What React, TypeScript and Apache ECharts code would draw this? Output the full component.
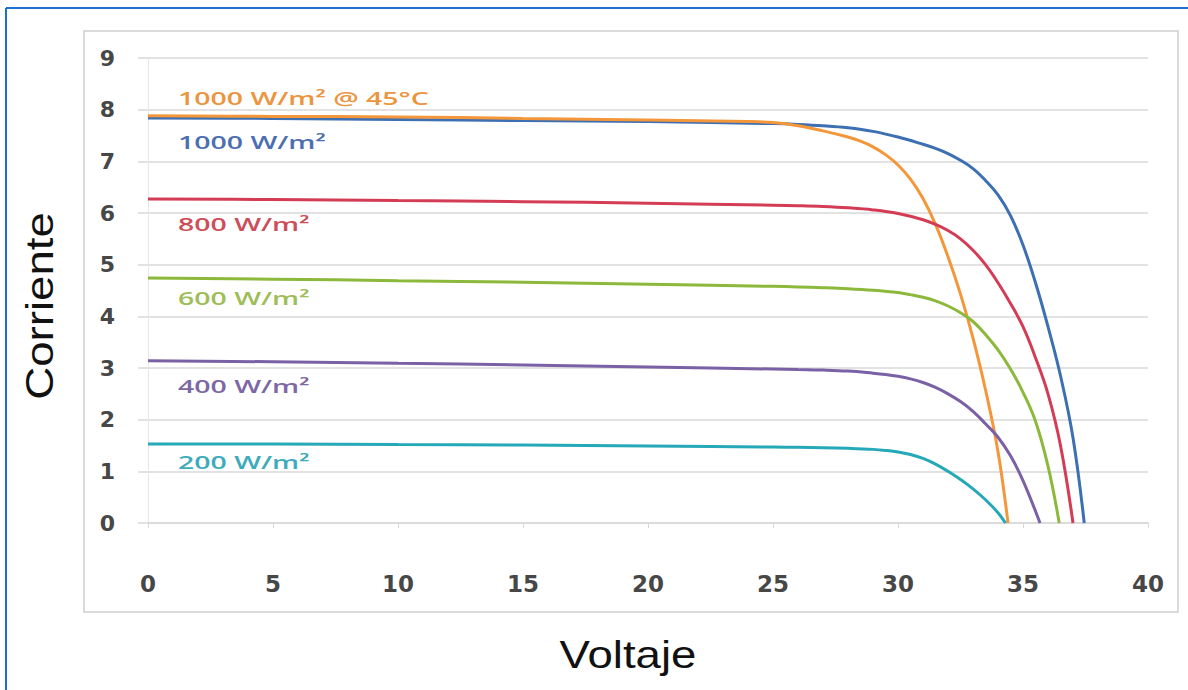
import React, { useEffect, useRef } from "react";
import * as echarts from "echarts";

// Voltage (V) / current (A) points
const blueV = [0, 5, 10, 15, 20, 25, 26, 27, 28, 29, 30, 31, 31.5, 32, 32.5, 33, 33.5, 34, 34.5, 35, 35.5, 36, 36.5, 37, 37.45];
const blueI = [7.84, 7.83, 7.81, 7.79, 7.77, 7.73, 7.715, 7.69, 7.65, 7.58, 7.47, 7.33, 7.25, 7.15, 7.02, 6.86, 6.63, 6.35, 5.95, 5.38, 4.65, 3.8, 2.85, 1.65, 0];

const orangeV = [0, 5, 10, 15, 20, 24, 25, 26, 27, 28, 28.5, 29, 29.5, 30, 30.5, 31, 31.5, 32, 32.5, 33, 33.5, 34, 34.4];
const orangeI = [7.88, 7.87, 7.86, 7.83, 7.8, 7.77, 7.75, 7.69, 7.59, 7.47, 7.39, 7.28, 7.13, 6.93, 6.655, 6.28, 5.78, 5.155, 4.43, 3.58, 2.58, 1.38, 0];

const redV = [0, 5, 10, 15, 20, 25, 26, 27, 28, 29, 30, 31, 31.5, 32, 32.5, 33, 33.5, 34, 34.5, 35, 35.5, 36, 36.5, 37];
const redI = [6.27, 6.26, 6.24, 6.22, 6.19, 6.15, 6.14, 6.125, 6.1, 6.06, 5.99, 5.87, 5.78, 5.66, 5.5, 5.28, 5.0, 4.65, 4.25, 3.8, 3.2, 2.5, 1.5, 0];

const greenV = [0, 5, 10, 15, 20, 25, 26, 27, 28, 29, 30, 30.5, 31, 31.5, 32, 32.5, 33, 33.5, 34, 34.5, 35, 35.5, 36, 36.45];
const greenI = [4.74, 4.72, 4.69, 4.66, 4.62, 4.58, 4.57, 4.555, 4.535, 4.505, 4.46, 4.42, 4.37, 4.3, 4.2, 4.07, 3.9, 3.65, 3.35, 2.98, 2.53, 1.97, 1.1, 0];

const purpleV = [0, 5, 10, 15, 20, 25, 26, 27, 28, 29, 29.5, 30, 30.5, 31, 31.5, 32, 32.5, 33, 33.5, 34, 34.5, 35, 35.68];
const purpleI = [3.14, 3.12, 3.09, 3.06, 3.02, 2.98, 2.97, 2.96, 2.94, 2.9, 2.875, 2.84, 2.79, 2.72, 2.625, 2.5, 2.35, 2.16, 1.92, 1.66, 1.3, 0.82, 0];

const tealV = [0, 5, 10, 15, 20, 25, 26, 27, 28, 29, 29.5, 30, 30.5, 31, 31.5, 32, 32.5, 33, 33.5, 34, 34.3];
const tealI = [1.53, 1.53, 1.52, 1.51, 1.49, 1.47, 1.465, 1.458, 1.445, 1.425, 1.405, 1.375, 1.325, 1.25, 1.14, 1.0, 0.84, 0.66, 0.45, 0.2, 0];

const seriesNames = ["1000 W/m²", "1000 W/m² @ 45°C", "800 W/m²", "600 W/m²", "400 W/m²", "200 W/m²"];
const lineColors = ["#3d6fb3", "#f3973a", "#d43c55", "#8cb83c", "#7a61a5", "#25a8b8"];
const labelColors = ["#4c6fb2", "#ec9540", "#cc4e5a", "#9fbd58", "#7d68a5", "#3eabbc"];
// label anchor positions (voltage, current) for the series names
const labelX = [1.2, 1.2, 1.2, 1.2, 1.2, 1.2];
const labelY = [7.37, 8.23, 5.78, 4.35, 2.65, 1.17];

const xTitle = "Voltaje";
const yTitle = "Corriente";

const zip = (v: number[], i: number[]) => v.map((x, k) => [x, i[k]]);
const curves = [
  zip(blueV, blueI),
  zip(orangeV, orangeI),
  zip(redV, redI),
  zip(greenV, greenI),
  zip(purpleV, purpleI),
  zip(tealV, tealI),
];

export default function App() {
  const ref = useRef<HTMLDivElement>(null);
  useEffect(() => {
    if (!ref.current) return;
    const chart = echarts.init(ref.current, null, { renderer: "svg", width: 1188, height: 690 });
    const gridColor = "#d9d9d9";
    const tickFont = {
      fontFamily: "DejaVu Sans",
      fontWeight: "bold" as const,
      color: "#474747",
    };
    chart.setOption({
      animation: false,
      backgroundColor: "#ffffff",
      grid: { left: 148, right: 40, top: 58, height: 465 },
      xAxis: {
        type: "value",
        min: 0,
        max: 40,
        interval: 5,
        axisLine: { show: true, lineStyle: { color: gridColor, width: 1.5 } },
        axisTick: { show: true, length: 5, lineStyle: { color: gridColor } },
        splitLine: { show: false },
        axisLabel: { ...tickFont, fontSize: 23, margin: 49 },
      },
      yAxis: {
        type: "value",
        min: 0,
        max: 9,
        interval: 1,
        axisLine: { show: true, lineStyle: { color: "#e6e6e6", width: 1 } },
        axisTick: { show: true, length: 10, lineStyle: { color: gridColor, width: 1.5 } },
        splitLine: { show: true, lineStyle: { color: gridColor, width: 1.5 } },
        axisLabel: { ...tickFont, fontSize: 22, margin: 33 },
      },
      series: curves.map((data, k) => ({
        type: "line",
        name: seriesNames[k],
        data,
        smooth: 0.4,
        showSymbol: false,
        symbol: "none",
        lineStyle: { color: lineColors[k], width: 3 },
        z: 3 + k,
      })),
    });

    const labels = seriesNames.map((name, k) => {
      const p = chart.convertToPixel({ gridIndex: 0 }, [labelX[k], labelY[k]]) as number[];
      return {
        type: "text",
        x: p[0],
        y: p[1],
        scaleX: 1.58,
        z: 20,
        style: {
          text: name,
          fill: labelColors[k],
          fontSize: 18,
          fontWeight: 600,
          fontFamily: "Open Sans",
          textAlign: "left",
          textVerticalAlign: "middle",
          align: "left",
          verticalAlign: "middle",
        },
      };
    });

    chart.setOption({
      graphic: [
        {
          type: "rect",
          z: -1,
          shape: { x: 84, y: 31, width: 1094, height: 581 },
          style: { fill: "none", stroke: "#cfcfcf", lineWidth: 1.5 },
        },
        {
          type: "line",
          z: 30,
          shape: { x1: 6, y1: 8, x2: 1188, y2: 8 },
          style: { stroke: "#1e6fd0", lineWidth: 2 },
        },
        {
          type: "line",
          z: 30,
          shape: { x1: 6, y1: 8, x2: 6, y2: 690 },
          style: { stroke: "#1e6fd0", lineWidth: 2 },
        },
        {
          type: "text",
          x: 628,
          y: 655,
          scaleX: 1.2,
          style: {
            text: xTitle,
            fill: "#111111",
            fontSize: 38,
            fontFamily: "Liberation Sans",
            textAlign: "center",
            textVerticalAlign: "middle",
            align: "center",
            verticalAlign: "middle",
          },
        },
        {
          type: "text",
          x: 40,
          y: 306,
          rotation: Math.PI / 2,
          scaleX: 1.2,
          style: {
            text: yTitle,
            fill: "#111111",
            fontSize: 38,
            fontFamily: "Liberation Sans",
            textAlign: "center",
            textVerticalAlign: "middle",
            align: "center",
            verticalAlign: "middle",
          },
        },
        ...labels,
      ],
    });
    return () => chart.dispose();
  }, []);
  return (
    <div
      ref={ref}
      style={{ position: "fixed", left: 0, top: 0, width: 1188, height: 690, background: "#fff" }}
    />
  );
}
